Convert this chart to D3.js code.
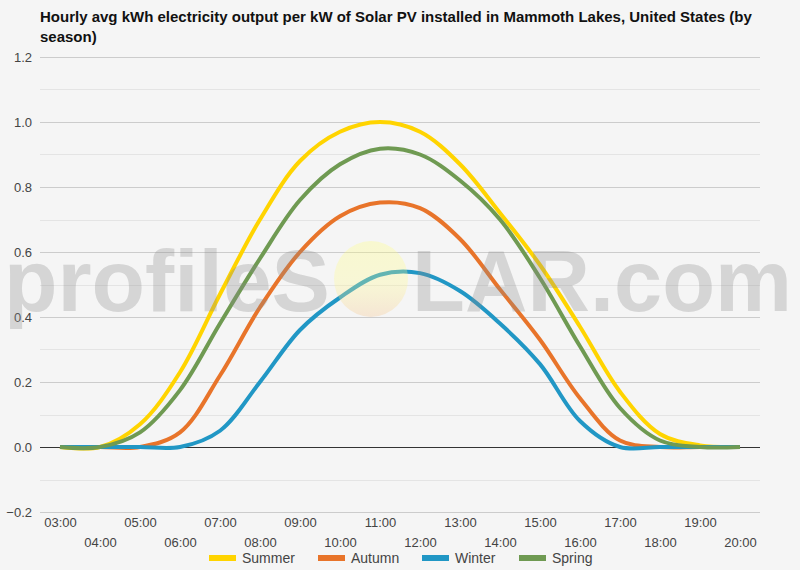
<!DOCTYPE html>
<html lang="en">
<head>
<meta charset="UTF-8">
<title>Hourly avg kWh output - Mammoth Lakes</title>
<script src="https://d3js.org/d3.v7.min.js"></script>
<style>
    body { margin: 0; background: #f5f5f5; font-family: "Liberation Sans", Arial, sans-serif; }
    svg { display: block; }
    .tick text { fill: #444; font-size: 13px; }
</style>
</head>
<body>
<svg width="800" height="570"></svg>
<script>
    // data
    const hours = ["03:00","04:00","05:00","06:00","07:00","08:00","09:00","10:00","11:00",
                   "12:00","13:00","14:00","15:00","16:00","17:00","18:00","19:00","20:00"];
    const summer = [0, 0, 0.07, 0.23, 0.47, 0.7, 0.88, 0.97, 1.0, 0.97, 0.87, 0.72, 0.56, 0.37, 0.17, 0.04, 0.005, 0];
    const autumn = [0, 0, 0, 0.045, 0.22, 0.43, 0.6, 0.71, 0.752, 0.735, 0.64, 0.485, 0.33, 0.15, 0.02, 0, 0, 0];
    const winter = [0, 0, 0, 0, 0.05, 0.2, 0.36, 0.46, 0.53, 0.535, 0.48, 0.38, 0.255, 0.08, 0, 0, 0, 0];
    const spring = [0, 0, 0.045, 0.175, 0.38, 0.58, 0.76, 0.87, 0.918, 0.9, 0.82, 0.7, 0.52, 0.31, 0.12, 0.02, 0, 0];
    const seriesNames = ["Summer", "Autumn", "Winter", "Spring"];
    const seriesColors = ["#ffd400", "#e8742a", "#2197c5", "#6f9a52"];
    const yTicks = [-0.2, 0, 0.2, 0.4, 0.6, 0.8, 1.0, 1.2];
    const yMinor = [-0.1, 0.1, 0.3, 0.5, 0.7, 0.9, 1.1];

    const series = [summer, autumn, winter, spring];
    const svg = d3.select("svg");
    const plotL = 40, plotR = 760, plotT = 57, plotB = 512;

    svg.append("rect").attr("width", 800).attr("height", 570).attr("fill", "#f5f5f5");

    svg.append("text")
        .attr("x", 40).attr("y", 22)
        .attr("font-size", 15).attr("font-weight", "bold").attr("fill", "#111")
        .text("Hourly avg kWh electricity output per kW of Solar PV installed in Mammoth Lakes, United States (by");
    svg.append("text")
        .attr("x", 40).attr("y", 42)
        .attr("font-size", 15).attr("font-weight", "bold").attr("fill", "#111")
        .text("season)");

    const x = d3.scalePoint().domain(hours).range([plotL, plotR]).padding(0.5);
    const y = d3.scaleLinear().domain([-0.2, 1.2]).range([plotB, plotT]);

    // minor grid
    svg.append("g").selectAll("line").data(yMinor).enter().append("line")
        .attr("x1", plotL).attr("x2", plotR)
        .attr("y1", d => Math.round(y(d)) + 0.5).attr("y2", d => Math.round(y(d)) + 0.5)
        .attr("stroke", "#e4e4e4");

    // major grid + labels
    const yAxis = svg.append("g")
        .attr("transform", `translate(${plotL},0)`)
        .call(d3.axisLeft(y).tickValues(yTicks).tickFormat(d3.format(".1f")).tickSize(-(plotR - plotL)).tickPadding(8));
    yAxis.select(".domain").remove();
    yAxis.selectAll(".tick line").attr("stroke", d => d === 0 ? "#333" : "#ccc");
    yAxis.selectAll(".tick text").attr("font-size", 14).attr("font-family", "Liberation Sans, Arial, sans-serif");

    // x labels, staggered on two rows
    const xAxis = svg.append("g")
        .attr("transform", `translate(0,${plotB})`)
        .call(d3.axisBottom(x).tickSize(0).tickPadding(0));
    xAxis.select(".domain").remove();
    xAxis.selectAll(".tick text")
        .attr("font-family", "Liberation Sans, Arial, sans-serif")
        .attr("font-size", 13)
        .attr("dy", (d, i) => i % 2 === 0 ? 15 : 35);

    const line = d3.line()
        .x((d, i) => x(hours[i]))
        .y(d => y(d))
        .curve(d3.curveCatmullRom.alpha(0.5));

    svg.append("g").selectAll("path").data(series).enter().append("path")
        .attr("d", line)
        .attr("fill", "none")
        .attr("stroke", (d, i) => seriesColors[i])
        .attr("stroke-width", 4)
        .attr("stroke-linejoin", "round");

    // watermark on top
    const defs = svg.append("defs");
    const grad = defs.append("linearGradient").attr("id", "sun").attr("x1", 0).attr("y1", 0).attr("x2", 0).attr("y2", 1);
    grad.append("stop").attr("offset", "0%").attr("stop-color", "rgb(255,255,120)").attr("stop-opacity", 0.3);
    grad.append("stop").attr("offset", "55%").attr("stop-color", "rgb(255,250,140)").attr("stop-opacity", 0.3);
    grad.append("stop").attr("offset", "100%").attr("stop-color", "rgb(245,200,150)").attr("stop-opacity", 0.35);

    const wm = svg.append("g").attr("pointer-events", "none");
    wm.append("text")
        .attr("x", 4).attr("y", 311)
        .attr("font-size", 88).attr("font-weight", "bold")
        .attr("textLength", 326).attr("lengthAdjust", "spacingAndGlyphs")
        .attr("fill", "rgba(140,140,140,0.3)")
        .text("profileS");
    wm.append("ellipse")
        .attr("cx", 371).attr("cy", 279).attr("rx", 37).attr("ry", 38)
        .attr("fill", "url(#sun)");
    wm.append("text")
        .attr("x", 412).attr("y", 311)
        .attr("font-size", 88).attr("font-weight", "bold")
        .attr("textLength", 380).attr("lengthAdjust", "spacingAndGlyphs")
        .attr("fill", "rgba(140,140,140,0.3)")
        .text("LAR.com");

    // legend
    const lx = [209, 318, 422, 519];
    const legend = svg.append("g").selectAll("g").data(seriesNames).enter().append("g")
        .attr("transform", (d, i) => `translate(${lx[i]},558)`);
    legend.append("rect").attr("x", 0).attr("y", -3).attr("width", 27).attr("height", 6)
        .attr("fill", (d, i) => seriesColors[i]);
    legend.append("text").attr("x", 33).attr("y", 5)
        .attr("font-size", 14).attr("fill", "#444")
        .text(d => d);
</script>
</body>
</html>
